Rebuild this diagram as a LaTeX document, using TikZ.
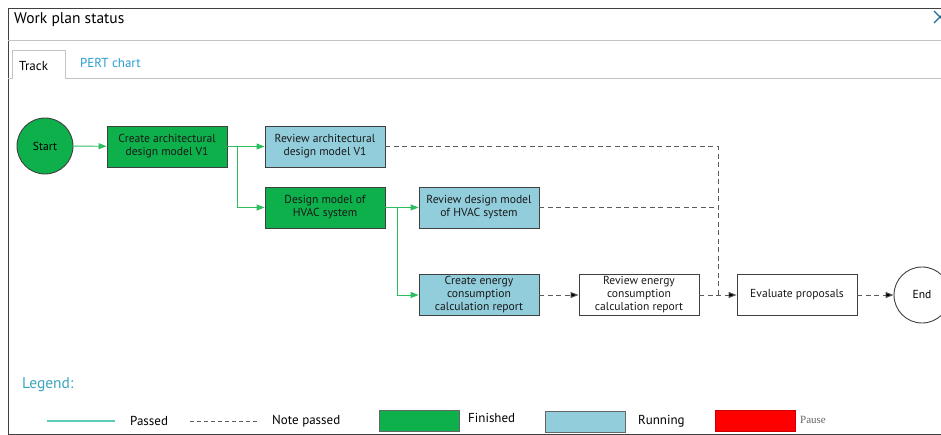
\documentclass[tikz,border=0pt]{standalone}
\usepackage{fontspec}
\setmainfont{PT Sans}
\newfontfamily\pauseface{Liberation Serif}
\usetikzlibrary{arrows.meta}

\definecolor{donegreen}{HTML}{0DB04B}
\definecolor{runblue}{HTML}{92CDDC}
\definecolor{edgegreen}{HTML}{2DBE60}
\definecolor{edgegray}{HTML}{5A5A5A}
\definecolor{boxline}{HTML}{404040}
\definecolor{tabblue}{HTML}{2A9FD0}
\definecolor{legendteal}{HTML}{3AA6BD}
\definecolor{legendline}{HTML}{5CCDB8}
\definecolor{rulegray}{HTML}{C4C4C4}

\tikzset{
  task/.style={rectangle, draw=boxline, line width=0.9pt, minimum width=120pt,
    minimum height=41pt, align=center, inner sep=1pt,
    font=\fontsize{11.6}{13}\selectfont, text=black!90},
  donetask/.style={task, fill=donegreen},
  runtask/.style={task, fill=runblue},
  opentask/.style={task, fill=white},
  terminal/.style={circle, draw=boxline, line width=0.9pt, minimum size=56pt,
    inner sep=0pt, font=\fontsize{11.6}{13}\selectfont},
  passed/.style={draw=edgegreen, line width=0.9pt},
  passedarrow/.style={passed, -{Triangle[length=8pt,width=6pt]}},
  pending/.style={draw=edgegray, line width=0.9pt, dash pattern=on 5pt off 3.5pt},
  pendingarrow/.style={pending, -{Triangle[length=8pt,width=6pt,fill=black]}},
  legtext/.style={anchor=west, inner sep=0pt, font=\fontsize{13}{15}\selectfont},
  swatch/.style={rectangle, draw=boxline!80, line width=0.7pt, minimum width=80pt,
    minimum height=21pt, inner sep=0pt}
}

\begin{document}
\begin{tikzpicture}[x=1pt, y=-1pt]
\useasboundingbox (0,0) rectangle (941,435);
\clip (0,0) rectangle (941,435);
\fill[white] (0,0) rectangle (941,435);

% window frame and header
\draw[boxline, line width=0.9pt] (941,8) -- (8,8) -- (8,434) -- (941,434);
\draw[rulegray, line width=0.8pt] (8,40) -- (941,40);
\node[anchor=west, inner sep=0pt, font=\fontsize{15.5}{18}\selectfont] (title) at (14,20) {Work plan status};
\draw[tabblue!70!black, line width=1.2pt] (934,11) -- (946,23) (934,23) -- (946,11);

% tabs
\draw[rulegray, line width=0.8pt] (8,78) -- (12,78) -- (12,50) -- (65,50) -- (65,78) -- (941,78);
\node[anchor=west, inner sep=0pt, font=\fontsize{13}{15}\selectfont] (tabtrack) at (19,66) {Track};
\node[anchor=west, inner sep=0pt, text=tabblue, font=\fontsize{13}{15}\selectfont] (tabpert) at (80,63) {PERT chart};

% tasks
\node[terminal, fill=donegreen] (start) at (45,146) {Start};
\node[donetask] (archmodel) at (167,146.5) {Create architectural\\design model V1};
\node[runtask]  (archreview) at (325,146.5) {Review architectural\\design model V1};
\node[donetask] (hvacmodel) at (325,207.5) {Design model of\\HVAC system};
\node[runtask]  (hvacreview) at (479,207.5) {Review design model\\of HVAC system};
\node[runtask]  (energyreport) at (479,295) {Create energy\\consumption\\calculation report};
\node[opentask] (energyreview) at (639,295) {Review energy\\consumption\\calculation report};
\node[opentask] (evaluate) at (797,295) {Evaluate proposals};
\node[terminal, fill=white] (finish) at (922,295) {End};

% junction points
\coordinate (splitA) at (237,146.5);
\coordinate (splitB) at (397,207.5);
\coordinate (mergeTop) at (718,146.5);
\coordinate (mergeMid) at (718,207.5);
\coordinate (mergeLow) at (718,295);

% passed connectors
\draw[passedarrow] (start) -- (archmodel);
\draw[passed] (archmodel.east) -- (splitA);
\draw[passedarrow] (splitA) -- (archreview.west);
\draw[passedarrow] (splitA) |- (hvacmodel.west);
\draw[passed] (hvacmodel.east) -- (splitB);
\draw[passedarrow] (splitB) -- (hvacreview.west);
\draw[passedarrow] (splitB) |- (energyreport.west);

% pending connectors
\draw[pending] (archreview.east) -- (mergeTop) -- (mergeLow);
\draw[pending] (hvacreview.east) -- (mergeMid);
\draw[pendingarrow] (energyreport.east) -- (energyreview.west);
\draw[pendingarrow] (energyreview.east) -- (evaluate.west);
\draw[pendingarrow] (evaluate.east) -- (finish.west);

% legend
\node[anchor=west, inner sep=0pt, text=legendteal, font=\fontsize{15.5}{18}\selectfont] (legendtitle) at (22,385) {Legend:};
\coordinate (passA) at (47,421);
\coordinate (passB) at (115,421);
\draw[legendline, line width=1.1pt] (passA) -- (passB);
\node[legtext] (passedlabel) at (130,421) {Passed};
\coordinate (pendA) at (190,421);
\coordinate (pendB) at (258,421);
\draw[edgegray, line width=0.8pt, dash pattern=on 4pt off 3pt] (pendA) -- (pendB);
\node[legtext] (pendinglabel) at (272,421) {Note passed};
\node[swatch, fill=donegreen] (finishedswatch) at (419,421) {};
\node[legtext] (finishedlabel) at (468,418) {Finished};
\node[swatch, fill=runblue] (runningswatch) at (585,421.5) {};
\node[legtext] (runninglabel) at (638,421) {Running};
\node[swatch, fill=red, draw=red!80!black] (pauseswatch) at (755,420.5) {};
\node[anchor=west, inner sep=0pt, text=black!60, font=\pauseface\fontsize{11}{12}\selectfont] (pauselabel) at (800,420) {Pause};
\end{tikzpicture}
\end{document}
